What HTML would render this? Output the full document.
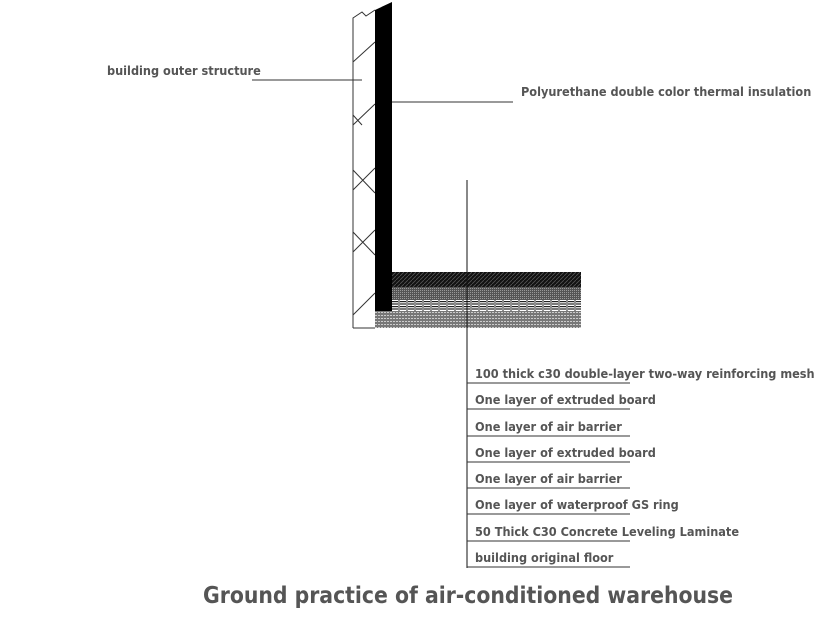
<!DOCTYPE html>
<html><head><meta charset="utf-8"><style>
html,body{margin:0;padding:0;background:#fff;}
svg{display:block}
text{font-family:"DejaVu Sans Condensed","Liberation Sans",sans-serif;font-weight:bold;fill:#555;}
</style></head><body>
<svg width="834" height="630" viewBox="0 0 834 630" xmlns="http://www.w3.org/2000/svg">
<defs>
<pattern id="hb" width="4" height="4" patternUnits="userSpaceOnUse"><rect width="4" height="4" fill="#111"/><path d="M0 4L4 0" stroke="#555" stroke-width="0.8"/></pattern>
<pattern id="gr" width="2" height="2" patternUnits="userSpaceOnUse"><rect width="2" height="2" fill="#555"/><rect width="1" height="1" fill="#999"/></pattern>
<pattern id="ds" width="8" height="5" patternUnits="userSpaceOnUse"><rect width="8" height="5" fill="#fff"/><rect y="1" width="6" height="1.2" fill="#222"/><rect y="3.4" width="6" height="1.2" fill="#222"/><rect x="6.5" width="1" height="5" fill="#222"/></pattern>
<pattern id="dt" width="3" height="3" patternUnits="userSpaceOnUse"><rect width="3" height="3" fill="#777"/><rect width="2" height="1" fill="#ccc"/></pattern>
</defs>
<polyline points="353,328 353,18 362,12 366,16 375,10" fill="none" stroke="#333" stroke-width="1"/>
<line x1="353" y1="328" x2="375" y2="328" stroke="#333"/>
<g stroke="#333" stroke-width="1">
<line x1="353" y1="62" x2="375" y2="42"/>
<line x1="353" y1="125" x2="375" y2="104"/>
<line x1="353" y1="115" x2="362" y2="125"/>
<line x1="353" y1="170" x2="375" y2="193"/>
<line x1="353" y1="190" x2="375" y2="168"/>
<line x1="353" y1="232" x2="375" y2="255"/>
<line x1="353" y1="252" x2="375" y2="230"/>
<line x1="353" y1="315" x2="375" y2="293"/>
</g>
<polygon points="375,10 392,2 392,311 375,311" fill="#000"/>
<rect x="392" y="272" width="189" height="15" fill="url(#hb)"/>
<rect x="392" y="287" width="189" height="13" fill="url(#gr)"/>
<rect x="392" y="300" width="189" height="11" fill="url(#ds)"/>
<rect x="375" y="311" width="206" height="17" fill="url(#dt)"/>
<line x1="252" y1="80" x2="362" y2="80" stroke="#333"/>
<line x1="392" y1="102" x2="513" y2="102" stroke="#333"/>
<line x1="467" y1="180" x2="467" y2="568" stroke="#111"/>
<g stroke="#333">
<line x1="467" y1="383" x2="630" y2="383"/>
<line x1="467" y1="409" x2="630" y2="409"/>
<line x1="467" y1="436" x2="630" y2="436"/>
<line x1="467" y1="462" x2="630" y2="462"/>
<line x1="467" y1="488" x2="630" y2="488"/>
<line x1="467" y1="514" x2="630" y2="514"/>
<line x1="467" y1="541" x2="630" y2="541"/>
<line x1="467" y1="567" x2="630" y2="567"/>
</g>
<g font-size="12.6">
<text x="107" y="75">building outer structure</text>
<text x="521" y="96">Polyurethane double color thermal insulation</text>
<text x="475" y="378">100 thick c30 double-layer two-way reinforcing mesh</text>
<text x="475" y="404">One layer of extruded board</text>
<text x="475" y="431">One layer of air barrier</text>
<text x="475" y="457">One layer of extruded board</text>
<text x="475" y="483">One layer of air barrier</text>
<text x="475" y="509">One layer of waterproof GS ring</text>
<text x="475" y="536">50 Thick C30 Concrete Leveling Laminate</text>
<text x="475" y="562">building original floor</text>
</g>
<text x="203" y="603" font-size="22.7">Ground practice of air-conditioned warehouse</text>
</svg>
</body></html>
